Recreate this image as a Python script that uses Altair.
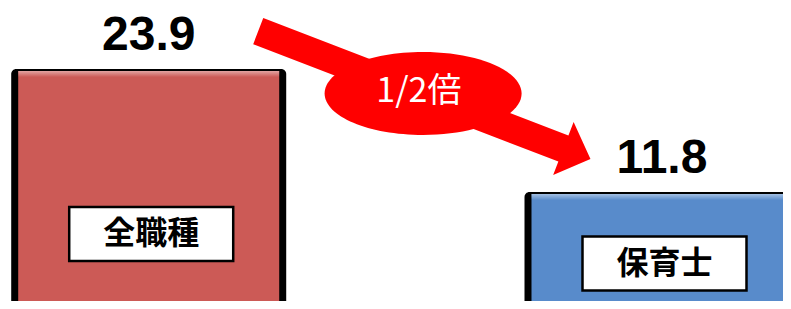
import altair as alt
import pandas as pd

# ---- data ----
categories = ["全職種", "保育士"]
values = [23.9, 11.8]
ratio_label = ["1/2倍"]

# ---- layout / style (not data) ----
bar_colors = ["#CC5A56", "#588BCB"]
label_y = [7.67, 4.77]          # vertical position of the category boxes (value units)
arrow_anchor = {"x": 0.537, "y": 21.34}
ellipse_anchor = {"x": 0.5346, "y": 21.49}
text_anchor = {"x": 0.5264, "y": 21.59}

df = pd.DataFrame({
    "cat": categories,
    "value": values,
    "idx": list(range(len(categories))),
    "label_y": label_y,
    "color": bar_colors,
})

W, H = 775, 293
x_scale = alt.Scale(domain=[-0.2644, 1.2260], nice=False, zero=False)
y_scale = alt.Scale(domain=[1.082, 29.90], nice=False, zero=False)

X = alt.X("idx:Q", scale=x_scale, axis=None)
Y = alt.Y("value:Q", scale=y_scale, axis=None)

base = alt.Chart(df)

shadow = base.mark_bar(width=275, color="black", cornerRadiusTopLeft=5,
                       cornerRadiusTopRight=5, clip=True).encode(
    x=X, y=Y, y2=alt.datum(0))

main = base.mark_bar(width=261, yOffset=2, clip=True).encode(
    x=X, y=Y, y2=alt.datum(0), color=alt.Color("color:N", scale=None))

grad = alt.LinearGradient(
    gradient="linear",
    stops=[alt.GradientStop(color="rgba(255,255,255,0.45)", offset=0),
           alt.GradientStop(color="rgba(255,255,255,0.0)", offset=1)],
    x1=0, x2=0, y1=0, y2=1)

highlight = base.transform_calculate(top2="datum.value - 0.6").mark_bar(
    width=261, yOffset=2, y2Offset=2, clip=True, color=grad).encode(
    x=X, y=Y, y2="top2:Q")

value_text = base.mark_text(font="Liberation Sans", fontWeight="bold", fontSize=48,
                            baseline="alphabetic", dy=-19, color="black").encode(
    x=X, y=Y, text=alt.Text("value:Q", format=".1f"))

box_path = "M-1,-0.329 L1,-0.329 L1,0.329 L-1,0.329 Z"
boxes = base.mark_point(shape=box_path, size=164 ** 2, filled=True, fill="white",
                        stroke="black", strokeWidth=2.5, opacity=1, xOffset=2.5).encode(
    x=X, y=alt.Y("label_y:Q", scale=y_scale, axis=None))

box_text = base.mark_text(font="Noto Sans CJK JP", fontWeight="bold", fontSize=32,
                          baseline="middle", dx=2.5, color="black").encode(
    x=X, y=alt.Y("label_y:Q", scale=y_scale, axis=None), text="cat:N")

# arrow (unit path pointing right, rotated)
arrow_path = ("M-1,-0.0787 L0.837,-0.0787 L0.837,-0.160 L1,0 "
              "L0.837,0.160 L0.837,0.0787 L-1,0.0787 Z")
arrow = alt.Chart(pd.DataFrame([arrow_anchor])).mark_point(
    shape=arrow_path, size=356 ** 2, angle=21.05, filled=True, color="#FF0000",
    opacity=1).encode(
    x=alt.X("x:Q", scale=x_scale, axis=None), y=alt.Y("y:Q", scale=y_scale, axis=None))

r = 0.421
k = 0.5523 * r
ellipse_path = (f"M-1,0 C-1,{-k} -0.5523,{-r} 0,{-r} C0.5523,{-r} 1,{-k} 1,0 "
                f"C1,{k} 0.5523,{r} 0,{r} C-0.5523,{r} -1,{k} -1,0 Z")
ellipse = alt.Chart(pd.DataFrame([ellipse_anchor])).mark_point(
    shape=ellipse_path, size=197 ** 2, filled=True, color="#FF0000", opacity=1).encode(
    x=alt.X("x:Q", scale=x_scale, axis=None), y=alt.Y("y:Q", scale=y_scale, axis=None))

ratio_text = alt.Chart(pd.DataFrame([dict(text_anchor, t=ratio_label[0])])).mark_text(
    font="Noto Sans CJK JP", fontSize=34, color="white", baseline="middle").encode(
    x=alt.X("x:Q", scale=x_scale, axis=None), y=alt.Y("y:Q", scale=y_scale, axis=None),
    text="t:N")

chart = alt.layer(shadow, main, highlight, value_text, boxes, box_text,
                  arrow, ellipse, ratio_text).properties(
    width=W, height=H, padding=0,
    autosize=alt.AutoSizeParams(type="none"),
).configure(background="white").configure_view(stroke=None)

chart.save("out.html", embed_options={"renderer": "svg", "actions": False})
